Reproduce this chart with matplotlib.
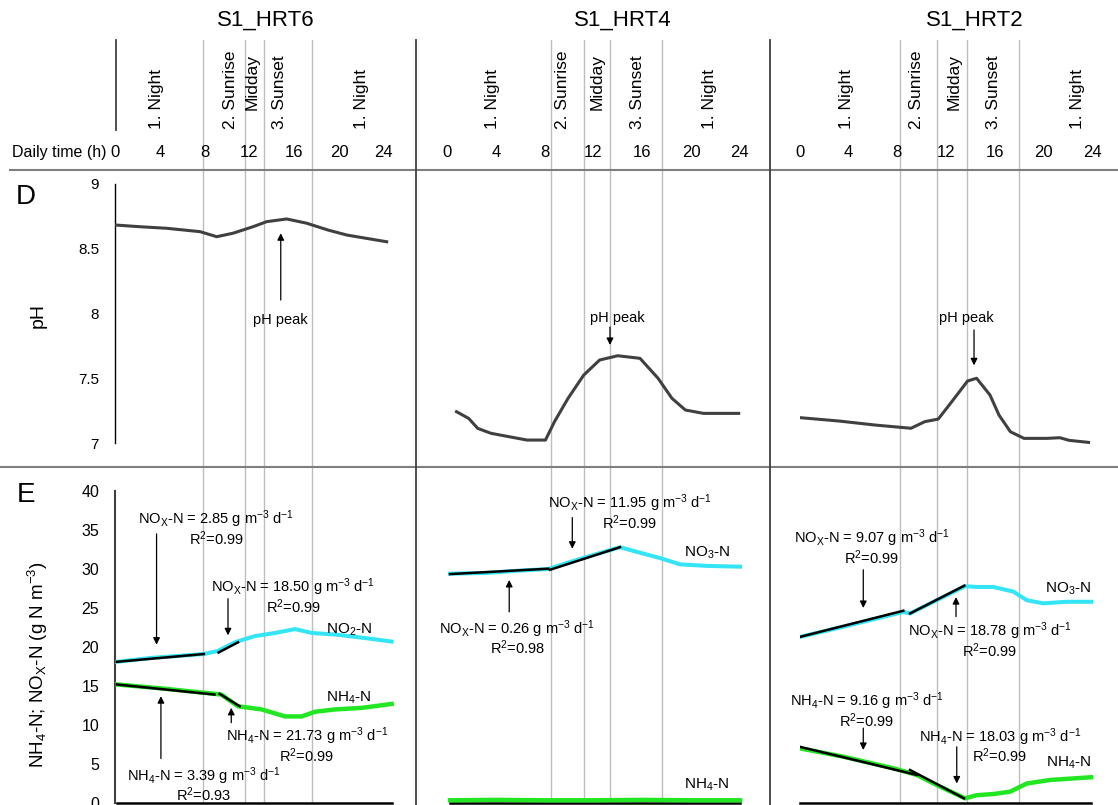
"""Diel pH and N profiles for the three HRT runs (panels D and E)."""

import matplotlib

matplotlib.use("Agg")
import matplotlib.pyplot as plt
from matplotlib.lines import Line2D

plt.rcParams["font.family"] = ["Liberation Sans", "DejaVu Sans"]
plt.rcParams["mathtext.fontset"] = "custom"
plt.rcParams["mathtext.rm"] = "Liberation Sans"
plt.rcParams["mathtext.it"] = "Liberation Sans:italic"
plt.rcParams["mathtext.bf"] = "Liberation Sans:bold"
plt.rcParams["mathtext.default"] = "regular"

runs = ["S1_HRT6", "S1_HRT4", "S1_HRT2"]
hour_ticks = [0, 4, 8, 12, 16, 20, 24]
phase_names = ["1. Night", "2. Sunrise", "Midday", "3. Sunset", "1. Night"]

# phase boundaries (h) per run
phase_bounds_hrt6 = [7.86, 11.6, 13.26, 17.6]
phase_bounds_hrt4 = [8.5, 11.23, 13.36, 17.62]
phase_bounds_hrt2 = [8.22, 11.26, 13.72, 17.99]

# pH
ph_hours_hrt6 = [0.09, 2.23, 4.62, 7.59, 9.08, 10.54, 12.32, 13.54, 15.33, 17.12, 19.0, 20.69, 22.47, 24.26]
ph_hrt6 = [8.683, 8.67, 8.658, 8.632, 8.593, 8.62, 8.67, 8.709, 8.73, 8.697, 8.645, 8.606, 8.58, 8.554]
ph_hours_hrt4 = [0.78, 1.78, 2.52, 3.61, 5.08, 6.56, 8.07, 8.81, 9.92, 11.21, 12.51, 13.99,
                 15.82, 17.30, 18.44, 19.54, 21.02, 23.91]
ph_hrt4 = [7.242, 7.19, 7.113, 7.075, 7.049, 7.023, 7.023, 7.165, 7.345, 7.525, 7.641, 7.674,
           7.654, 7.50, 7.345, 7.255, 7.229, 7.229]
ph_hours_hrt2 = [0.12, 3.20, 6.16, 9.12, 10.25, 11.36, 12.47, 13.77, 14.51, 15.61, 16.35, 17.29,
                 18.41, 20.26, 21.36, 22.10, 23.71]
ph_hrt2 = [7.195, 7.170, 7.139, 7.114, 7.165, 7.185, 7.319, 7.479, 7.50, 7.371, 7.216, 7.087,
           7.036, 7.036, 7.041, 7.021, 7.005]

# NOx-N and NH4-N (g N m-3)
nox_hours_hrt6 = [0.15, 3.2, 7.93, 9.19, 10.69, 12.48, 14.28, 16.07, 17.57, 19.66, 22.05, 24.7]
nox_hrt6 = [18.1, 18.6, 19.1, 19.5, 20.6, 21.4, 21.8, 22.3, 21.8, 21.6, 21.2, 20.7]
nh4_hours_hrt6 = [0.15, 4.1, 8.88, 9.49, 10.98, 13.08, 15.18, 16.67, 17.86, 19.66, 22.05, 24.7]
nh4_hrt6 = [15.2, 14.7, 14.0, 13.9, 12.4, 12.0, 11.1, 11.1, 11.7, 12.0, 12.2, 12.7]

nox_hours_hrt4 = [0.25, 3.25, 5.98, 8.30, 10.08, 11.99, 14.18, 15.55, 17.46, 19.10, 21.29, 24.02]
nox_hrt4 = [29.4, 29.5, 29.8, 30.0, 30.9, 31.8, 32.8, 32.2, 31.4, 30.6, 30.4, 30.3]
nh4_hours_hrt4 = [0.25, 4.0, 8.0, 12.0, 16.0, 20.0, 24.02]
nh4_hrt4 = [0.35, 0.4, 0.35, 0.35, 0.4, 0.35, 0.35]

nox_hours_hrt2 = [0.0, 3.56, 8.49, 9.04, 11.23, 13.56, 14.52, 15.88, 17.53, 18.63, 19.99, 21.91, 23.91]
nox_hrt2 = [21.3, 22.6, 24.5, 24.3, 26.0, 27.8, 27.7, 27.7, 27.1, 26.0, 25.6, 25.8, 25.8]
nh4_hours_hrt2 = [0.0, 3.56, 7.67, 9.59, 11.23, 13.56, 14.52, 15.88, 17.26, 18.63, 20.54, 23.91]
nh4_hrt2 = [7.0, 5.94, 4.45, 3.6, 2.3, 0.6, 1.0, 1.15, 1.45, 2.5, 2.95, 3.3]

# linear fits: ([h_start, h_end], [c_start, c_end])
fits_hrt6 = [([0.15, 7.93], [18.1, 19.1]), ([9.25, 10.98], [19.3, 20.6]),
             ([0.15, 8.88], [15.2, 13.9]), ([9.34, 11.13], [14.0, 12.4])]
fits_hrt4 = [([0.25, 8.30], [29.35, 30.04]), ([8.44, 14.18], [29.9, 32.8])]
fits_hrt2 = [([0.0, 8.49], [21.3, 24.65]), ([9.04, 13.5], [24.3, 27.86]),
             ([0.0, 9.59], [7.2, 3.6]), ([9.04, 13.47], [4.23, 0.6])]

# rates (g m-3 d-1) and R2
nox_rates_hrt6, nox_r2_hrt6 = [2.85, 18.50], [0.99, 0.99]
nh4_rates_hrt6, nh4_r2_hrt6 = [3.39, 21.73], [0.93, 0.99]
nox_rates_hrt4, nox_r2_hrt4 = [0.26, 11.95], [0.98, 0.99]
nox_rates_hrt2, nox_r2_hrt2 = [9.07, 18.78], [0.99, 0.99]
nh4_rates_hrt2, nh4_r2_hrt2 = [9.16, 18.03], [0.99, 0.99]

W, H = 1118, 805
XMAX = 25
col_left = [115, 447, 800]
col_pxh = [11.2, 12.2, 12.17]

NOX = r"NO$_X$-N"
NH4 = r"NH$_4$-N"
GRID = "#bdbdbd"


def frame(left, top, right, bottom):
    return [left / W, 1 - bottom / H, (right - left) / W, (bottom - top) / H]


def fig_line(fig, xs, ys, **kw):
    fig.add_artist(Line2D([x / W for x in xs], [1 - y / H for y in ys],
                          transform=fig.transFigure, **kw))


def rate_note(ax, species, rate, r2, text_h, text_v, arrow_h, tail_v, tip_v):
    ax.text(text_h, text_v, f"{species} = {rate:.2f} g m$^{{-3}}$ d$^{{-1}}$",
            ha="center", va="center", fontsize=10.5, zorder=5)
    ax.annotate(f"R$^2$={r2:.2f}", xy=(text_h, text_v),
                xytext=(0, -13.7), textcoords="offset points",
                ha="center", va="center", fontsize=10.5, zorder=5)
    ax.annotate("", xy=(arrow_h, tip_v), xytext=(arrow_h, tail_v),
                arrowprops=dict(arrowstyle="-|>", color="black", lw=0.9,
                                mutation_scale=10, shrinkA=0, shrinkB=0))


fig = plt.figure(figsize=(W / 100, H / 100), dpi=100)

columns = [
    dict(bounds=phase_bounds_hrt6, label_h=[3.75, 10.27, 12.23, 14.73, 22.05], title_h=13.5,
         ph=(ph_hours_hrt6, ph_hrt6), peak=(14.8, 7.95, 14.8, 8.104, 8.62),
         nox=(nox_hours_hrt6, nox_hrt6), nh4=(nh4_hours_hrt6, nh4_hrt6), fits=fits_hrt6,
         base=(0.15, 24.7),
         notes=[(NOX, nox_rates_hrt6[0], nox_r2_hrt6[0], 9.02, 36.33, 3.71, 34.5, 20.3),
                (NOX, nox_rates_hrt6[1], nox_r2_hrt6[1], 15.92, 27.65, 10.09, 26.2, 21.5),
                (NH4, nh4_rates_hrt6[1], nh4_r2_hrt6[1], 17.12, 8.53, 10.38, 10.3, 12.2),
                (NH4, nh4_rates_hrt6[0], nh4_r2_hrt6[0], 7.93, 3.5, 4.1, 5.7, 13.7)],
         names=[(r"NO$_2$-N", 20.86, 22.15), (NH4, 20.86, 13.5)]),
    dict(bounds=phase_bounds_hrt4, label_h=[3.7, 9.5, 12.3, 15.65, 21.55], title_h=14.4,
         ph=(ph_hours_hrt4, ph_hrt4), peak=(13.93, 7.965, 13.36, 7.896, 7.757),
         nox=(nox_hours_hrt4, nox_hrt4), nh4=(nh4_hours_hrt4, nh4_hrt4), fits=fits_hrt4,
         base=(0.25, 24.02),
         notes=[(NOX, nox_rates_hrt4[1], nox_r2_hrt4[1], 15.0, 38.4, 10.27, 36.6, 32.6),
                (NOX, nox_rates_hrt4[0], nox_r2_hrt4[0], 5.76, 22.3, 5.1, 24.5, 28.6)],
         names=[(r"NO$_3$-N", 21.3, 32.1), (NH4, 21.3, 2.3)]),
    dict(bounds=phase_bounds_hrt2, label_h=[3.86, 9.6, 12.7, 15.9, 22.8], title_h=14.4,
         ph=(ph_hours_hrt2, ph_hrt2), peak=(13.64, 7.965, 14.3, 7.873, 7.60),
         nox=(nox_hours_hrt2, nox_hrt2), nh4=(nh4_hours_hrt2, nh4_hrt2), fits=fits_hrt2,
         base=(0.0, 23.91),
         notes=[(NOX, nox_rates_hrt2[0], nox_r2_hrt2[0], 5.89, 33.9, 5.2, 29.9, 25.0),
                (NOX, nox_rates_hrt2[1], nox_r2_hrt2[1], 15.6, 22.0, 12.82, 23.9, 26.4),
                (NH4, nh4_rates_hrt2[0], nh4_r2_hrt2[0], 5.48, 13.0, 5.2, 9.6, 6.8),
                (NH4, nh4_rates_hrt2[1], nh4_r2_hrt2[1], 16.43, 8.5, 12.88, 7.2, 2.5)],
         names=[(r"NO$_3$-N", 22.05, 27.5), (NH4, 22.05, 5.1)]),
]

for index, (run, col) in enumerate(zip(runs, columns)):
    x0 = col_left[index]
    x1 = x0 + XMAX * col_pxh[index]

    # header: title, phase names, hour ticks
    head = fig.add_axes(frame(x0, 40, x1, 170))
    head.set_xlim(0, XMAX)
    head.set_ylim(0, 1)
    head.axis("off")
    for bound in col["bounds"]:
        head.axvline(bound, color=GRID, lw=1.0, zorder=0)
    head.text(col["title_h"], 1.154, run, ha="center", va="center", fontsize=16, clip_on=False)
    for name, hour in zip(phase_names, col["label_h"]):
        y = 0.4615 if name == "Midday" else 0.315
        head.text(hour, y, name, rotation=90, ha="center", va="bottom", fontsize=12.5)
    for tick in hour_ticks:
        head.text(tick, 0.131, str(tick), ha="center", va="center", fontsize=12)

    # panel D: pH
    ax_d = fig.add_axes(frame(x0, 170, x1, 467))
    ax_d.patch.set_visible(False)
    ax_d.set_xlim(0, XMAX)
    ax_d.set_ylim(6.815, 9.108)
    for side in ("top", "right", "bottom", "left"):
        ax_d.spines[side].set_visible(False)
    ax_d.set_xticks([])
    if index == 0:
        ax_d.spines["left"].set_visible(True)
        ax_d.spines["left"].set_bounds(7, 9)
        ax_d.spines["left"].set_linewidth(1.0)
        ax_d.set_yticks([7, 7.5, 8, 8.5, 9], ["7", "7.5", "8", "8.5", "9"])
        ax_d.tick_params(axis="y", length=0, pad=11.5, labelsize=11)
    else:
        ax_d.set_yticks([])
    for bound in col["bounds"]:
        ax_d.axvline(bound, color=GRID, lw=1.0, zorder=0)
    ax_d.plot(*col["ph"], color="#404040", lw=2.2, zorder=3)
    text_h, text_v, arrow_h, tail_v, tip_v = col["peak"]
    ax_d.text(text_h, text_v, "pH peak", ha="center", va="center", fontsize=10.5, zorder=5)
    ax_d.annotate("", xy=(arrow_h, tip_v), xytext=(arrow_h, tail_v),
                  arrowprops=dict(arrowstyle="-|>", color="black", lw=0.9,
                                  mutation_scale=10, shrinkA=0, shrinkB=0))

    # panel E: nitrogen
    ax_e = fig.add_axes(frame(x0, 467, x1, 803))
    ax_e.patch.set_visible(False)
    ax_e.set_xlim(0, XMAX)
    ax_e.set_ylim(0, 43.08)
    for side in ("top", "right", "left"):
        ax_e.spines[side].set_visible(False)
    ax_e.spines["bottom"].set_bounds(*col["base"])
    ax_e.spines["bottom"].set_linewidth(1.8)
    ax_e.set_xticks([])
    if index == 0:
        ax_e.spines["left"].set_visible(True)
        ax_e.spines["left"].set_bounds(0, 40)
        ax_e.spines["left"].set_color("#404040")
        ax_e.spines["left"].set_linewidth(1.5)
        ax_e.set_yticks(range(0, 41, 5))
        ax_e.tick_params(axis="y", length=0, pad=11.5, labelsize=11.5)
    else:
        ax_e.set_yticks([])
    for bound in col["bounds"]:
        ax_e.axvline(bound, color=GRID, lw=1.0, zorder=0)
    ax_e.plot(*col["nox"], color="#33e5f5", lw=2.9, zorder=3)
    ax_e.plot(*col["nh4"], color="#22e622", lw=3.2, zorder=3)
    for fit_hours, fit_values in col["fits"]:
        ax_e.plot(fit_hours, fit_values, color="black", lw=1.8, zorder=4)
    for note in col["notes"]:
        rate_note(ax_e, *note)
    for name, hour, value in col["names"]:
        ax_e.text(hour, value, name, ha="center", va="center", fontsize=11, zorder=5)

# grid frame of the figure
fig_line(fig, [10, W], [170, 170], color="#7f7f7f", lw=1.5)
fig_line(fig, [0, W], [467, 467], color="#7f7f7f", lw=1.5)
fig_line(fig, [415.5, 415.5], [40, H], color="#404040", lw=1.3)
fig_line(fig, [769.5, 769.5], [40, H], color="#404040", lw=1.3)
fig_line(fig, [116, 116], [40, 130], color="#404040", lw=1.3)

fig.text(12 / W, 1 - 153 / H, "Daily time (h)", ha="left", va="center", fontsize=11.5)
fig.text(26 / W, 1 - 197 / H, "D", ha="center", va="center", fontsize=20)
fig.text(26 / W, 1 - 495 / H, "E", ha="center", va="center", fontsize=20)
fig.text(38 / W, 1 - 315 / H, "pH", rotation=90, ha="center", va="center", fontsize=14)
fig.text(37.5 / W, 1 - 665 / H, r"NH$_4$-N; NO$_X$-N (g N m$^{-3}$)",
         rotation=90, ha="center", va="center", fontsize=13.5)

fig.savefig("out.png", dpi=100)
plt.close(fig)
